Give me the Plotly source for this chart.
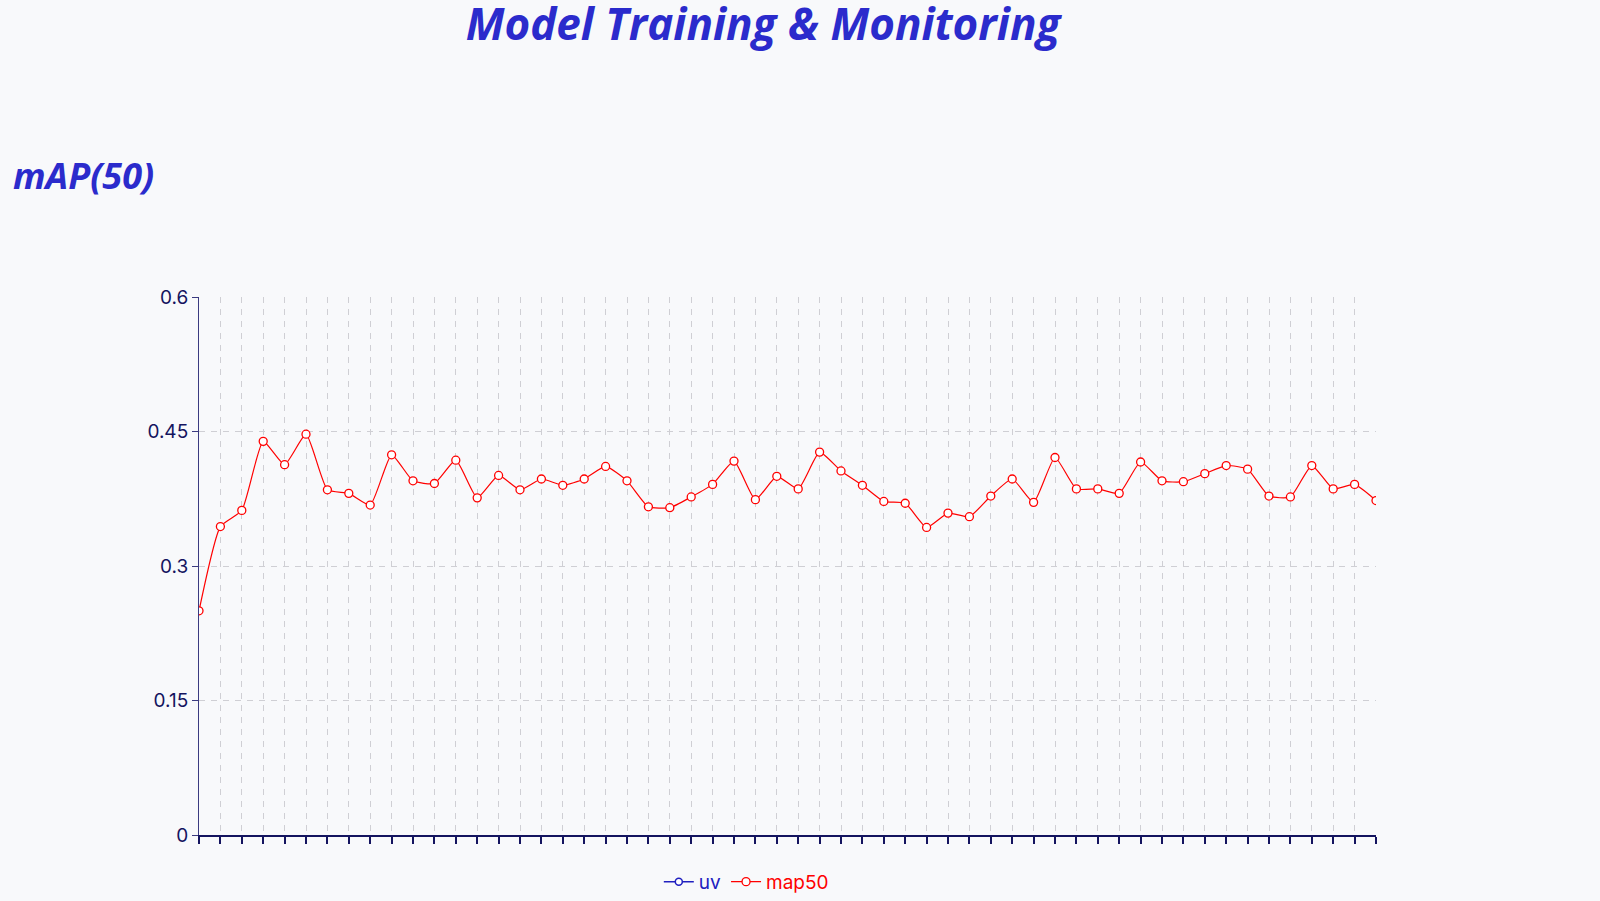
import plotly.graph_objects as go

epochs = list(range(1, 57))
map50 = [0.250, 0.344, 0.362, 0.439, 0.413, 0.447, 0.385, 0.381, 0.368, 0.424,
         0.395, 0.392, 0.418, 0.376, 0.401, 0.385, 0.397, 0.390, 0.397, 0.411,
         0.395, 0.366, 0.365, 0.377, 0.391, 0.417, 0.374, 0.400, 0.386, 0.427,
         0.406, 0.390, 0.372, 0.370, 0.343, 0.359, 0.355, 0.378, 0.397, 0.371,
         0.421, 0.386, 0.386, 0.381, 0.416, 0.395, 0.394, 0.403, 0.412, 0.408,
         0.378, 0.377, 0.412, 0.386, 0.391, 0.373]
uv = [None] * 56
y_ticks = [0, 0.15, 0.3, 0.45, 0.6]
y_tick_labels = ["0", "0.15", "0.3", "0.45", "0.6"]

BG = "#f8f9fb"
NAVY = "#14145f"
BLUE = "#2b2bcc"
GRID = "#cfcfd4"

fig = go.Figure()
fig.add_trace(go.Scatter(
    x=epochs, y=uv, name="uv", mode="lines+markers",
    line=dict(color="#2020c0", width=1.5),
    marker=dict(symbol="circle", size=7, color="white",
                line=dict(color="#2020c0", width=1.5)),
))
fig.add_trace(go.Scatter(
    x=epochs, y=map50, name="<span style='color:#ff0000'>map50</span>",
    mode="lines+markers",
    line=dict(color="#ff0000", width=1.2, shape="spline", smoothing=0.5),
    marker=dict(symbol="circle", size=8, color="white",
                line=dict(color="#ff0000", width=1.3)),
))

fig.update_layout(
    width=1600, height=901,
    paper_bgcolor=BG, plot_bgcolor=BG,
    margin=dict(l=199, r=224, t=297, b=66, autoexpand=False),
    title=dict(text="<b><i>Model Training & Monitoring</i></b>",
               font=dict(family="Open Sans", size=44, color=BLUE),
               x=763 / 1600, xanchor="center", xref="container",
               y=1 - 25 / 901, yanchor="middle", yref="container"),
    showlegend=True,
    legend=dict(orientation="h", x=0.465, xanchor="center", y=-0.087,
                yanchor="middle", font=dict(family="Inter", size=19, color="#2020c0"),
                itemwidth=30, bgcolor="rgba(0,0,0,0)", traceorder="normal"),
    annotations=[dict(text="<b><i>mAP(50)</i></b>", xref="paper", yref="paper",
                      x=(11 - 199) / 1177, xanchor="left",
                      y=(835 - 175) / 538, yanchor="middle", showarrow=False,
                      font=dict(family="Open Sans", size=36, color=BLUE))],
)

fig.update_xaxes(
    range=[1, 56], tickmode="array", tickvals=epochs, showticklabels=False,
    showgrid=True, gridcolor=GRID, griddash="6px,6px", gridwidth=1.3,
    showline=True, linecolor=NAVY, linewidth=1.5,
    ticks="outside", ticklen=7, tickcolor=NAVY, tickwidth=1.5,
    zeroline=False,
)
fig.update_yaxes(
    range=[0, 0.6], tickmode="array", tickvals=y_ticks, ticktext=y_tick_labels,
    showgrid=True, gridcolor=GRID, griddash="6px,6px", gridwidth=1.3,
    showline=True, linecolor="#3a3a80", linewidth=1,
    ticks="outside", ticklen=6, tickcolor="#3a3a80",
    tickfont=dict(family="Inter", size=19, color=NAVY),
    zeroline=False,
)

fig.write_html("out.html", config={"displayModeBar": False},
               post_script="document.body.style.margin='0';document.body.style.background='%s';" % BG)
